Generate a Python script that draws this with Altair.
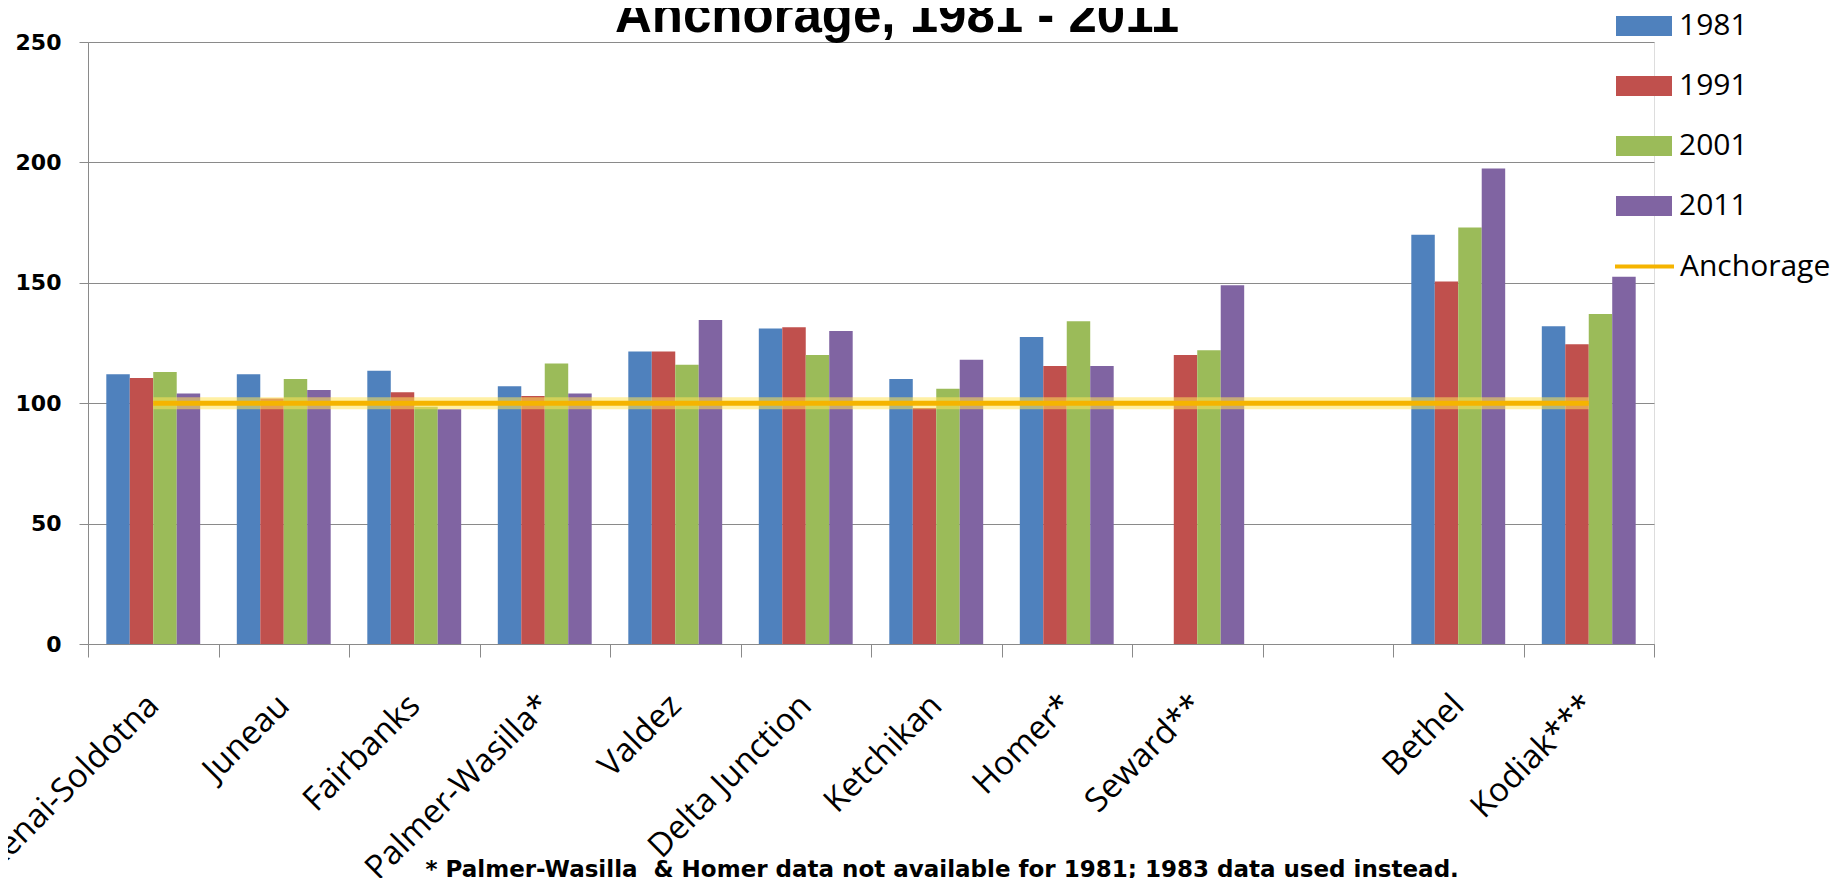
import altair as alt
import pandas as pd

categories = ["Kenai-Soldotna", "Juneau", "Fairbanks", "Palmer-Wasilla*", "Valdez",
              "Delta Junction", "Ketchikan", "Homer*", "Seward**", " ", "Bethel", "Kodiak***"]
years = ["1981", "1991", "2001", "2011"]
v1981 = [112, 112, 113.5, 107, 121.5, 131, 110, 127.5, None, None, 170, 132]
v1991 = [110.5, 102, 104.5, 103, 121.5, 131.5, 98, 115.5, 120, None, 150.5, 124.5]
v2001 = [113, 110, 98.5, 116.5, 116, 120, 106, 134, 122, None, 173, 137]
v2011 = [104, 105.5, 97.5, 104, 134.5, 130, 118, 115.5, 149, None, 197.5, 152.5]
anchorage = [100, 100, 100, 100, 100, 100, 100, 100, 100, 100, 100, 100]
bar_colors = ["#4F81BD", "#C0504D", "#9BBB59", "#8064A2"]
footnote = "* Palmer-Wasilla\u00a0 & Homer data not available for 1981; 1983 data used instead."
title_text = "Anchorage, 1981 - 2011"

rows = []
for yr, vals in zip(years, [v1981, v1991, v2001, v2011]):
    for c, v in zip(categories, vals):
        if v is not None:
            rows.append({"Area": c, "Year": yr, "Index": v})
bars_df = pd.DataFrame(rows)
line_df = pd.DataFrame({"Area": categories, "Index": anchorage, "Series": ["Anchorage"] * len(categories)})
title_df = pd.DataFrame({"Title": [title_text]})

GRAY = "#8a8a8a"

x_enc = alt.X(
    "Area:N", sort=categories,
    scale=alt.Scale(domain=categories, paddingInner=0, paddingOuter=0),
    axis=alt.Axis(
        title=footnote, titleFont="DejaVu Sans", titleFontWeight="bold", titleFontSize=23,
        titleColor="black", titleX=337, titleY=232, titleAlign="left", titleBaseline="alphabetic",
        labelAngle=315, labelAlign="right", labelBaseline="middle", labelFont="Open Sans",
        labelFontSize=33, labelColor="black", labelPadding=43, labelOffset=0,
        labelOverlap=False, labelLimit=600, labelBound=False,
        tickBand="extent", tickSize=13, tickColor=GRAY, domainColor=GRAY,
    ),
)
y_enc = alt.Y(
    "Index:Q", scale=alt.Scale(domain=[0, 250], nice=False),
    axis=alt.Axis(
        title=None, values=[0, 50, 100, 150, 200, 250], labelFont="DejaVu Sans",
        labelFontWeight="bold", labelFontSize=22, labelColor="black", labelPadding=18,
        tickSize=9, tickColor=GRAY, domainColor=GRAY, gridColor=GRAY, grid=True,
    ),
)

rect_path = "M-1,-0.36L1,-0.36L1,0.36L-1,0.36Z"

bars = alt.Chart(bars_df).mark_bar().encode(
    x=x_enc,
    xOffset=alt.XOffset("Year:N", sort=years, scale=alt.Scale(paddingInner=0, paddingOuter=0.78)),
    y=y_enc,
    color=alt.Color(
        "Year:N", sort=years, scale=alt.Scale(domain=years, range=bar_colors),
        legend=alt.Legend(
            title=None, orient="none", legendX=1528, legendY=-44, padding=0,
            symbolType=rect_path, symbolSize=3136, symbolStrokeWidth=0, symbolOpacity=1,
            labelFont="Open Sans", labelFontSize=30, labelColor="black", labelOffset=7,
            rowPadding=17,
        ),
    ),
)

glow = alt.Chart(line_df).mark_line(strokeWidth=12, opacity=0.55, color="#FFE35A").encode(
    x=x_enc, y=y_enc,
)

line = alt.Chart(line_df).mark_line(strokeWidth=5).encode(
    x=x_enc, y=y_enc,
    stroke=alt.Stroke(
        "Series:N", scale=alt.Scale(domain=["Anchorage"], range=["#F5B400"]),
        legend=alt.Legend(
            title=None, orient="none", legendX=1525, legendY=193, padding=0,
            symbolType="stroke", symbolSize=3481, symbolStrokeWidth=4,
            labelFont="Open Sans", labelFontSize=30, labelColor="black", labelOffset=4,
        ),
    ),
)

title = alt.Chart(title_df).mark_text(
    font="Liberation Sans", fontSize=51, fontWeight="bold", color="black",
    align="center", baseline="alphabetic",
).encode(text="Title:N", x=alt.value(809), y=alt.value(-10))

chart = alt.layer(bars, glow, line, title).properties(
    width=1566, height=602,
    padding={"left": 80, "top": 34, "right": 176, "bottom": 234},
    autosize=alt.AutoSizeParams(type="none"),
).configure_view(stroke=None).configure(background="white")

chart.save("out.html", embed_options={"renderer": "svg", "actions": False})
